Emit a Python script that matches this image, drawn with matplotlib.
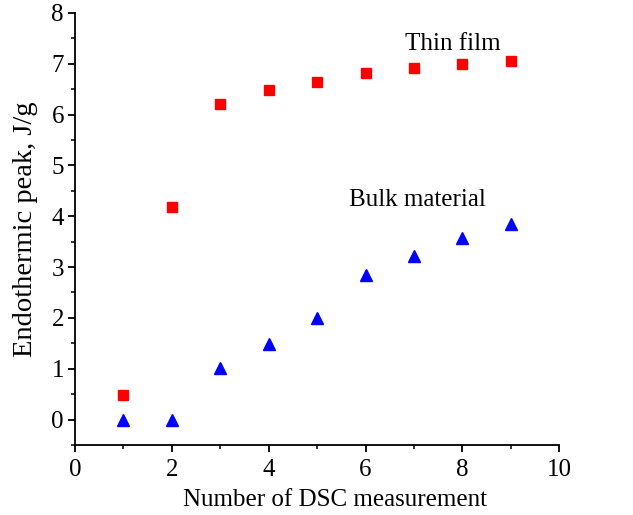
import matplotlib
matplotlib.use("Agg")
import matplotlib.pyplot as plt
from matplotlib.ticker import MultipleLocator

measurement = [1, 2, 3, 4, 5, 6, 7, 8, 9]
thin_film = [0.48, 4.18, 6.20, 6.48, 6.65, 6.82, 6.92, 6.99, 7.06]
bulk = [0.0, 0.0, 1.02, 1.48, 2.00, 2.85, 3.22, 3.58, 3.85]

plt.rcParams['font.family'] = ['Liberation Serif', 'DejaVu Serif']

fig = plt.figure(figsize=(6.33, 5.15), dpi=100)
ax = fig.add_axes([0.1185, 0.136, 0.765, 0.839])

ax.plot(measurement, thin_film, 's', color='#ff0000', markersize=7.5, linestyle='none')
ax.plot(measurement, bulk, '^', color='#0000ff', markersize=9, linestyle='none')

ax.set_xlim(0, 10)
ax.set_ylim(-0.5, 8)
ax.xaxis.set_major_locator(MultipleLocator(2))
ax.xaxis.set_minor_locator(MultipleLocator(1))
ax.yaxis.set_major_locator(MultipleLocator(1))
ax.yaxis.set_minor_locator(MultipleLocator(0.5))

for s in ['top', 'right']:
    ax.spines[s].set_visible(False)
for s in ['left', 'bottom']:
    ax.spines[s].set_linewidth(1.3)

ax.tick_params(which='major', direction='out', length=5, width=1.3, labelsize=18, pad=3)
ax.tick_params(axis='x', which='major', pad=5)
ax.tick_params(which='minor', direction='out', length=3, width=1.1)

ax.set_xlabel('Number of DSC measurement', fontsize=18)
ax.xaxis.set_label_coords(0.537, -0.103)
ax.set_ylabel('Endothermic peak, J/g', fontsize=20.5, labelpad=10)

ax.text(7.8, 7.38, 'Thin film', fontsize=18, ha='center', va='center')
ax.text(7.08, 4.32, 'Bulk material', fontsize=18, ha='center', va='center')

fig.savefig('out.png', dpi=100)
